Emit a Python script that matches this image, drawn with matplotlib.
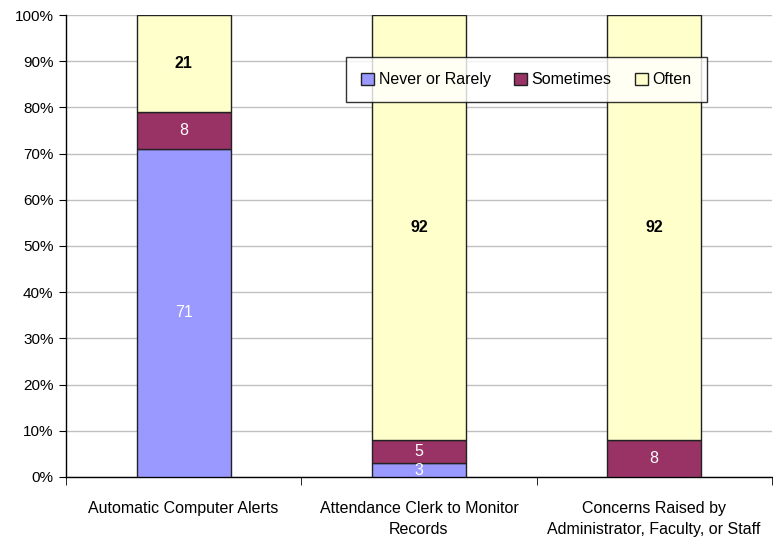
import matplotlib.pyplot as plt
import numpy as np

categories = ['Automatic Computer Alerts',
              'Attendance Clerk to Monitor\nRecords',
              'Concerns Raised by\nAdministrator, Faculty, or Staff']
never_rarely = [71, 3, 0]
sometimes = [8, 5, 8]
often = [21, 92, 92]

series = [('Never or Rarely', never_rarely, '#9999FF', 'white', 'normal'),
          ('Sometimes', sometimes, '#993366', 'white', 'normal'),
          ('Often', often, '#FFFFCC', 'black', 'bold')]

plt.rcParams['font.family'] = ['Liberation Sans', 'DejaVu Sans']
plt.rcParams['font.size'] = 11

fig = plt.figure(figsize=(7.73, 5.42), dpi=100)
ax = fig.add_axes([0.0854, 0.12, 0.913, 0.8523])

x = np.arange(len(categories))
bottom = np.zeros(len(categories))
for name, vals, color, txtcol, weight in series:
    vals = np.array(vals, dtype=float)
    ax.bar(x, vals, 0.4, bottom=bottom, color=color, edgecolor='#222222',
           linewidth=1, label=name, zorder=3)
    for xi, b, v in zip(x, bottom, vals):
        if v > 0:
            ax.text(xi, b + v / 2, f'{int(v)}', ha='center', va='center',
                    color=txtcol, fontweight=weight, fontsize=11.5, zorder=4)
    bottom += vals

ax.set_xlim(-0.5, 2.5)
ax.set_ylim(0, 100)
ax.set_yticks(np.arange(0, 101, 10))
ax.set_yticklabels([f'{v}%' for v in range(0, 101, 10)])
ax.yaxis.grid(True, color='#C0C0C0', linewidth=1, zorder=0)

ax.set_xticks(x)
ax.set_xticklabels(categories, linespacing=1.55, fontsize=11.5)
ax.tick_params(axis='x', length=0, pad=17)
ax.set_xticks([-0.5, 0.5, 1.5, 2.5], minor=True)
ax.tick_params(axis='x', which='minor', length=6, direction='out', color='black')
ax.tick_params(axis='y', length=5, direction='out', color='black', pad=4)

for s in ['top', 'right']:
    ax.spines[s].set_visible(False)
for s in ['left', 'bottom']:
    ax.spines[s].set_color('black')
    ax.spines[s].set_linewidth(1)

leg = ax.legend(loc='upper left', bbox_to_anchor=(0.397, 0.909), ncol=3,
                borderaxespad=0, frameon=True, fancybox=False, edgecolor='black',
                handlelength=0.8, handleheight=0.8, handletextpad=0.3,
                columnspacing=1.45, borderpad=0.95, fontsize=11.5)
leg.get_frame().set_linewidth(1)

fig.savefig('out.png', dpi=100)
